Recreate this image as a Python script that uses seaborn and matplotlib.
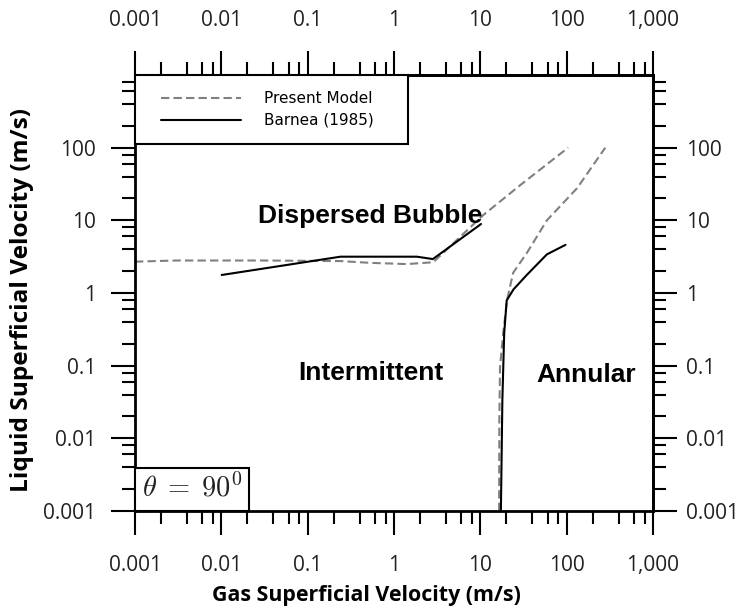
import seaborn as sns
import matplotlib.pyplot as plt
import numpy as np
from matplotlib.ticker import FixedLocator, FixedFormatter, NullFormatter
from matplotlib.offsetbox import AnchoredText
from matplotlib.legend_handler import HandlerLine2D

# Present model: dispersed-bubble boundary and annular boundary
model_db_x = [0.001, 0.003, 0.03, 0.24, 0.53, 1.4, 2.85, 10.8, 29, 104]
model_db_y = [2.7, 2.8, 2.8, 2.75, 2.6, 2.5, 2.65, 11.8, 30.5, 100]
model_an_x = [16.5, 16.6, 16.9, 18.4, 20.4, 24, 34.8, 59, 132, 280]
model_an_y = [0.001, 0.018, 0.095, 0.28, 0.8, 1.9, 3.6, 10, 27.7, 100]

# Barnea (1985)
barnea_db_x = [0.0101, 0.24, 1.84, 2.82, 10.2]
barnea_db_y = [1.77, 3.16, 3.16, 2.93, 8.9]
barnea_an_x = [17.3, 18.0, 18.9, 20.2, 24.2, 34.5, 59, 97]
barnea_an_y = [0.001, 0.034, 0.28, 0.79, 1.12, 1.77, 3.4, 4.6]

x_ticks = [0.001, 0.01, 0.1, 1, 10, 100, 1000]
x_tick_labels = ['0.001', '0.01', '0.1', '1', '10', '100', '1,000']
y_ticks = [0.001, 0.01, 0.1, 1, 10, 100]
y_tick_labels = ['0.001', '0.01', '0.1', '1', '10', '100']

sns.set_style('ticks')
plt.rcParams['mathtext.fontset'] = 'cm'
plt.rcParams['font.family'] = ['Open Sans', 'DejaVu Sans']

fig = plt.figure(figsize=(7.4, 6.1), dpi=100)
ax = fig.add_axes([135 / 740, 99 / 610, 518 / 740, 436 / 610])

gray = '#808080'
dash = (0, (4, 2))
sns.lineplot(x=model_db_x, y=model_db_y, sort=False, estimator=None, color=gray,
             linestyle=dash, linewidth=1.5, ax=ax, label='Present Model')
sns.lineplot(x=model_an_x, y=model_an_y, sort=False, estimator=None, color=gray,
             linestyle=dash, linewidth=1.5, ax=ax, label='_nolegend_')
sns.lineplot(x=barnea_db_x, y=barnea_db_y, sort=False, estimator=None, color='black',
             linewidth=1.5, ax=ax, label='Barnea (1985)')
sns.lineplot(x=barnea_an_x, y=barnea_an_y, sort=False, estimator=None, color='black',
             linewidth=1.5, ax=ax, label='_nolegend_')

ax.set_xscale('log')
ax.set_yscale('log')
ax.set_xlim(0.001, 1000)
ax.set_ylim(0.001, 1000)

minor_x = [m * 10.0 ** e for e in range(-3, 3) for m in (2, 4, 6, 8)]
minor_y = [m * 10.0 ** e for e in range(-3, 3) for m in (2, 4, 6, 8)]

tick_color = '#222222'


def style_axis(axis, major, labels, minor):
    axis.set_major_locator(FixedLocator(major))
    axis.set_major_formatter(FixedFormatter(labels))
    axis.set_minor_locator(FixedLocator(minor))
    axis.set_minor_formatter(NullFormatter())


style_axis(ax.xaxis, x_ticks, x_tick_labels, minor_x)
style_axis(ax.yaxis, y_ticks, y_tick_labels, minor_y)
ax.tick_params(which='major', length=17, width=1.5, color='black', labelsize=15,
               labelcolor=tick_color)
ax.tick_params(which='minor', length=9.5, width=1.5, color='black')
ax.tick_params(axis='x', which='major', pad=15)
ax.tick_params(axis='y', which='major', pad=11)

sec_x = ax.secondary_xaxis('top')
style_axis(sec_x.xaxis, x_ticks, x_tick_labels, minor_x)
sec_x.tick_params(which='major', length=17, width=1.5, labelsize=15, pad=15,
                  labelcolor=tick_color, color='black')
sec_x.tick_params(which='minor', length=9.5, width=1.5, color='black')
sec_y = ax.secondary_yaxis('right')
style_axis(sec_y.yaxis, y_ticks, y_tick_labels, minor_y)
sec_y.tick_params(which='major', length=17, width=1.5, labelsize=15, pad=7,
                  labelcolor=tick_color, color='black')
sec_y.tick_params(which='minor', length=9.5, width=1.5, color='black')
for s in (sec_x, sec_y):
    for sp in s.spines.values():
        sp.set_linewidth(2)
        sp.set_color('black')

for sp in ax.spines.values():
    sp.set_visible(True)
    sp.set_linewidth(2)
    sp.set_color('black')

ax.set_xlabel('Gas Superficial Velocity (m/s)', fontsize=15.4, fontweight='bold',
              color='black')
ax.set_ylabel('Liquid Superficial Velocity (m/s)', fontsize=17.6, fontweight='bold',
              color='black')
ax.xaxis.label.set_va('center')
ax.yaxis.label.set_va('center')
ax.xaxis.set_label_coords(0.446, -0.193)
ax.yaxis.set_label_coords(-0.218, 0.484)

region_font = dict(family='Liberation Sans', fontweight='bold', fontsize=19,
                   ha='center', va='center', color='black')
ax.text(0.53, 11.5, 'Dispersed Bubble', **region_font)
ax.text(0.54, 0.079, 'Intermittent', **region_font)
ax.text(166, 0.074, 'Annular', **region_font)

leg = ax.legend(loc='upper left', bbox_to_anchor=(0, 1, 0.527, 0), mode='expand',
                borderaxespad=0, fancybox=False, edgecolor='black', framealpha=1,
                prop={'family': 'DejaVu Sans', 'size': 11}, handlelength=5.9,
                handletextpad=1.5, borderpad=1.05, labelspacing=0.45,
                handler_map={plt.Line2D: HandlerLine2D(xpad=0.65)})
leg.get_frame().set_linewidth(1.5)
for t in leg.get_texts():
    t.set_color('black')

at = AnchoredText(r'$\theta\;=\;90^0$', loc='lower left', frameon=True, borderpad=0,
                  pad=0.25, prop=dict(size=20.5, color='#222222'))
at.patch.set_boxstyle('square,pad=0')
at.patch.set_edgecolor('black')
at.patch.set_linewidth(1.5)
ax.add_artist(at)

fig.savefig('out.png', dpi=100)
